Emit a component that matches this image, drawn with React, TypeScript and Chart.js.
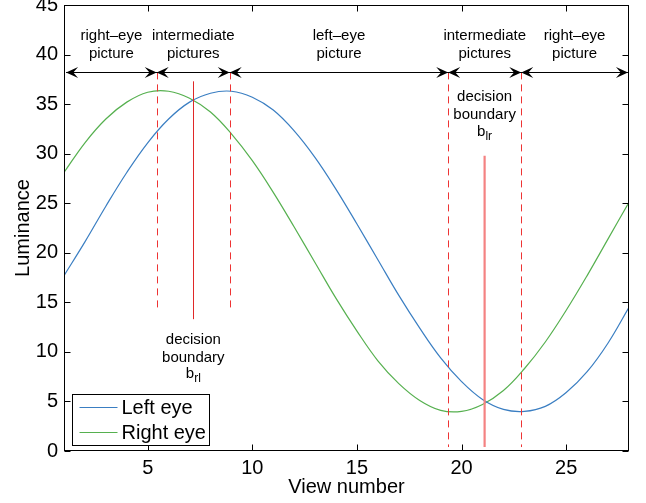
import React, { useEffect, useRef } from "react";
import { Chart, registerables } from "chart.js";

Chart.register(...registerables);

// ---- data ----
const views = [1, 2, 3, 4, 5, 6, 7, 8, 9, 10, 11, 12, 13, 14, 15, 16, 17, 18, 19, 20, 21, 22, 23, 24, 25, 26, 27, 28];
const leftEye = [17.7, 21.1, 24.7, 28.1, 31.1, 33.5, 35.2, 36.1, 36.3, 35.7, 34.4, 32.3, 29.6, 26.4, 22.9, 19.3, 15.7, 12.4, 9.4, 7.0, 5.2, 4.2, 4.0, 4.5, 5.9, 8.0, 10.9, 14.5];
const rightEye = [28.1, 31.1, 33.5, 35.2, 36.2, 36.3, 35.6, 34.2, 32.0, 29.3, 26.1, 22.6, 19.0, 15.4, 12.1, 9.1, 6.8, 5.1, 4.1, 4.0, 4.7, 6.1, 8.3, 11.0, 14.2, 17.7, 21.4, 25.1];
const seriesLabels = ["Left eye", "Right eye"];
const xTickValues = [5, 10, 15, 20, 25];
const xRange = [1, 28];
const yRange = [0, 45];
const yStep = 5;

// annotation values (data units)
const arrowLevel = 38.2;
const zoneBounds = [1.1, 5.43, 8.92, 19.36, 22.85, 27.95];
const zoneLabels = [
  ["right\u2013eye", "picture"],
  ["intermediate", "pictures"],
  ["left\u2013eye", "picture"],
  ["intermediate", "pictures"],
  ["right\u2013eye", "picture"],
];
const zoneLabelLevels = [41.9, 40.1];
const dashedX = [5.43, 8.92, 19.36, 22.85];
const dashedBottom = [14.4, 14.4, 0.4, 0.4];
const boundaryX = [7.18, 21.1];
const boundaryBottom = [13.3, 0.4];
const boundaryTop = [37.3, 29.8];
const boundarySub = ["rl", "lr"];
const boundaryTextLevels = [
  [11.2, 9.4, 7.8],
  [35.7, 33.9, 32.2],
];

const FONT = "'Liberation Sans', Arial, Helvetica, sans-serif";
const BLUE = "#3a7ec2";
const GREEN = "#56b04f";
const SERIES_COLORS = [BLUE, GREEN];

function drawHead(ctx: CanvasRenderingContext2D, tx: number, ty: number, dir: number) {
  const L = 12;
  const W = 5.5;
  ctx.beginPath();
  ctx.moveTo(tx, ty);
  ctx.lineTo(tx - dir * L, ty - W);
  ctx.lineTo(tx - dir * L * 0.6, ty);
  ctx.lineTo(tx - dir * L, ty + W);
  ctx.closePath();
  ctx.fill();
}

const overlayPlugin = {
  id: "overlay",
  afterDatasetsDraw(chart: any) {
    const { ctx, chartArea: a, scales } = chart;
    const xs = scales.x;
    const ys = scales.y;
    const left = Math.round(a.left) + 0.5;
    const right = Math.round(a.right) - 0.5;
    const top = Math.round(a.top) + 0.5;
    const bottom = Math.round(a.bottom) - 0.5;
    ctx.save();

    // dashed red lines
    ctx.lineWidth = 1;
    ctx.setLineDash([7, 5]);
    dashedX.forEach((v, i) => {
      const px = Math.round(xs.getPixelForValue(v)) + 0.5;
      ctx.strokeStyle = "#ee3333";
      ctx.beginPath();
      ctx.moveTo(px, ys.getPixelForValue(arrowLevel));
      ctx.lineTo(px, ys.getPixelForValue(dashedBottom[i]));
      ctx.stroke();
    });
    ctx.setLineDash([]);

    // decision boundary lines
    boundaryX.forEach((v, i) => {
      const px = i === 0 ? Math.round(xs.getPixelForValue(v)) + 0.5 : xs.getPixelForValue(v);
      ctx.strokeStyle = i === 0 ? "#e02828" : "#f48282";
      ctx.lineWidth = i === 0 ? 1 : 2.2;
      ctx.beginPath();
      ctx.moveTo(px, ys.getPixelForValue(boundaryTop[i]));
      ctx.lineTo(px, ys.getPixelForValue(boundaryBottom[i]));
      ctx.stroke();
    });

    // arrow line
    const ay = Math.round(ys.getPixelForValue(arrowLevel)) + 0.5;
    ctx.strokeStyle = "#000000";
    ctx.fillStyle = "#000000";
    ctx.lineWidth = 1;
    ctx.beginPath();
    ctx.moveTo(xs.getPixelForValue(zoneBounds[0]), ay);
    ctx.lineTo(xs.getPixelForValue(zoneBounds[zoneBounds.length - 1]), ay);
    ctx.stroke();
    for (let i = 0; i < zoneBounds.length - 1; i++) {
      const p0 = xs.getPixelForValue(zoneBounds[i]);
      const p1 = xs.getPixelForValue(zoneBounds[i + 1]);
      drawHead(ctx, p0, ay, -1);
      drawHead(ctx, p1, ay, 1);
    }

    // zone labels
    ctx.font = `15px ${FONT}`;
    ctx.textAlign = "center";
    ctx.textBaseline = "middle";
    for (let i = 0; i < zoneLabels.length; i++) {
      const cx = (xs.getPixelForValue(zoneBounds[i]) + xs.getPixelForValue(zoneBounds[i + 1])) / 2;
      zoneLabels[i].forEach((t, j) => {
        ctx.fillText(t, cx, ys.getPixelForValue(zoneLabelLevels[j]));
      });
    }

    // decision boundary text
    boundaryX.forEach((v, i) => {
      const cx = xs.getPixelForValue(v);
      const lv = boundaryTextLevels[i];
      ctx.font = `15px ${FONT}`;
      ctx.textAlign = "center";
      ctx.fillText("decision", cx, ys.getPixelForValue(lv[0]));
      ctx.fillText("boundary", cx, ys.getPixelForValue(lv[1]));
      const by = ys.getPixelForValue(lv[2]);
      const bw = ctx.measureText("b").width;
      ctx.font = `12px ${FONT}`;
      const sw = ctx.measureText(boundarySub[i]).width;
      const start = cx - (bw + sw) / 2;
      ctx.textAlign = "left";
      ctx.font = `15px ${FONT}`;
      ctx.fillText("b", start, by);
      ctx.font = `12px ${FONT}`;
      ctx.fillText(boundarySub[i], start + bw, by + 5);
    });

    // frame
    ctx.strokeStyle = "#000000";
    ctx.lineWidth = 1;
    ctx.strokeRect(left, top, right - left, bottom - top);

    // inward ticks
    const tl = 6;
    ctx.beginPath();
    xTickValues.forEach((v) => {
      const px = Math.round(xs.getPixelForValue(v)) + 0.5;
      ctx.moveTo(px, bottom);
      ctx.lineTo(px, bottom - tl);
      ctx.moveTo(px, top);
      ctx.lineTo(px, top + tl);
    });
    ys.ticks.forEach((t: any) => {
      const py = Math.round(ys.getPixelForValue(t.value)) + 0.5;
      ctx.moveTo(left, py);
      ctx.lineTo(left + tl, py);
      ctx.moveTo(right, py);
      ctx.lineTo(right - tl, py);
    });
    ctx.stroke();

    // legend
    const lx = Math.round(left + 7) + 0.5;
    const lw = 137;
    const lh = 51;
    const ly = Math.round(bottom - 6 - lh) + 0.5;
    ctx.fillStyle = "#ffffff";
    ctx.fillRect(lx, ly, lw, lh);
    ctx.strokeStyle = "#000000";
    ctx.lineWidth = 1;
    ctx.strokeRect(lx, ly, lw, lh);
    seriesLabels.forEach((label, i) => {
      const yy = Math.round(ly + 12 + i * 25) + 0.5;
      ctx.strokeStyle = SERIES_COLORS[i];
      ctx.lineWidth = 1;
      ctx.beginPath();
      ctx.moveTo(lx + 7, yy);
      ctx.lineTo(lx + 45, yy);
      ctx.stroke();
      ctx.fillStyle = "#000000";
      ctx.font = `20px ${FONT}`;
      ctx.textAlign = "left";
      ctx.textBaseline = "middle";
      ctx.fillText(label, lx + 49, yy + 1);
    });

    ctx.restore();
  },
};

export default function App() {
  const ref = useRef<HTMLCanvasElement | null>(null);
  useEffect(() => {
    if (!ref.current) return;
    const chart = new Chart(ref.current, {
      type: "line",
      data: {
        datasets: [
          {
            label: seriesLabels[0],
            data: views.map((v, i) => ({ x: v, y: leftEye[i] })),
            borderColor: BLUE,
            backgroundColor: BLUE,
            borderWidth: 1.2,
            pointRadius: 0,
            tension: 0.4,
            fill: false,
          },
          {
            label: seriesLabels[1],
            data: views.map((v, i) => ({ x: v, y: rightEye[i] })),
            borderColor: GREEN,
            backgroundColor: GREEN,
            borderWidth: 1.2,
            pointRadius: 0,
            tension: 0.4,
            fill: false,
          },
        ],
      },
      options: {
        responsive: false,
        animation: false,
        events: [],
        layout: { padding: { top: 5, right: 17, left: 0, bottom: 0 } },
        plugins: {
          legend: { display: false },
          tooltip: { enabled: false },
        },
        scales: {
          x: {
            type: "linear",
            min: xRange[0],
            max: xRange[1],
            grid: { display: false, drawTicks: false },
            border: { display: false },
            afterBuildTicks: (s: any) => {
              s.ticks = xTickValues.map((v) => ({ value: v }));
            },
            afterFit: (s: any) => {
              s.height = 52;
              s.paddingLeft = 0;
              s.paddingRight = 0;
            },
            ticks: {
              color: "#000",
              padding: 5,
              maxRotation: 0,
              font: { family: FONT, size: 20 },
            },
            title: {
              display: true,
              text: "View number",
              color: "#000",
              font: { family: FONT, size: 20 },
              padding: { top: 0, bottom: 4 },
            },
          },
          y: {
            type: "linear",
            min: yRange[0],
            max: yRange[1],
            grid: { display: false, drawTicks: false },
            border: { display: false },
            afterFit: (s: any) => {
              s.width = 64;
              s.paddingTop = 0;
              s.paddingBottom = 0;
            },
            ticks: {
              stepSize: yStep,
              color: "#000",
              padding: 6,
              font: { family: FONT, size: 20 },
            },
            title: {
              display: true,
              text: "Luminance",
              color: "#000",
              font: { family: FONT, size: 20 },
              padding: { top: 11, bottom: 0 },
            },
          },
        },
      },
      plugins: [overlayPlugin],
    });
    return () => chart.destroy();
  }, []);
  return (
    <div style={{ position: "fixed", left: 0, top: 0, width: 646, height: 503, background: "#fff" }}>
      <canvas ref={ref} width={646} height={503} style={{ display: "block" }} />
    </div>
  );
}
